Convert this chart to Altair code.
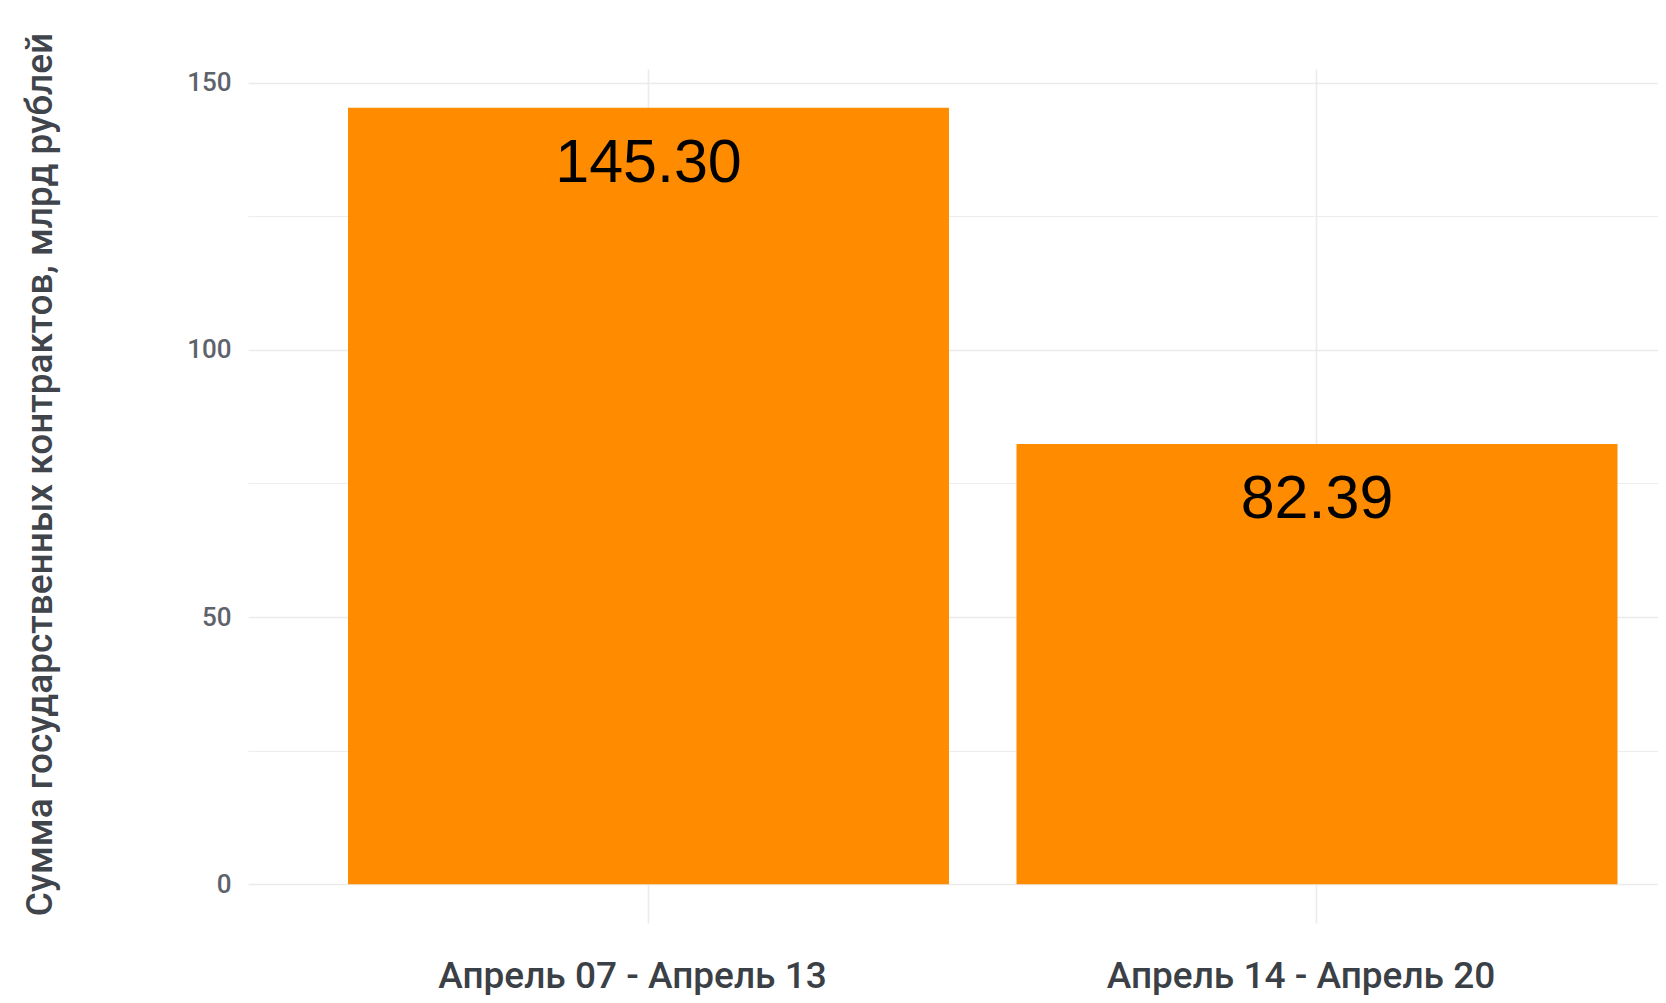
import altair as alt
import pandas as pd

categories = ["Апрель 07 - Апрель 13", "Апрель 14 - Апрель 20"]
values = [145.30, 82.39]
labels = ["145.30", "82.39"]
y_ticks = [0, 25, 50, 75, 100, 125, 150]

df = pd.DataFrame({"period": categories, "value": values, "label": labels})

W = 1410
H = 854

x_enc = alt.X(
    "period:N",
    sort=categories,
    title=None,
    scale=alt.Scale(paddingInner=0.101, paddingOuter=0.1051, align=0.7117),
    axis=alt.Axis(
        labelAngle=0,
        labelFont="Roboto",
        labelFontSize=37,
        labelFontWeight=500,
        labelColor="#3b3f46",
        labelPadding=35,
        labelBaseline="top",
        labelLimit=0,
        labelOffset=-16,
        ticks=False,
        domain=False,
        grid=True,
        gridColor="#EBEBEB",
        gridWidth=1.6,
        bandPosition=0.5,
    ),
)

y_enc = alt.Y(
    "value:Q",
    title="Сумма государственных контрактов, млрд рублей",
    scale=alt.Scale(domain=[-7.265, 152.565], nice=False, zero=False),
    axis=alt.Axis(
        values=y_ticks,
        labelExpr="datum.value % 50 === 0 ? datum.label : ''",
        labelFont="Roboto",
        labelFontSize=26,
        labelFontWeight=500,
        labelColor="#5e626b",
        labelPadding=17,
        ticks=False,
        domain=False,
        grid=True,
        gridColor="#EBEBEB",
        gridWidth={"condition": {"test": "datum.value % 50 === 0", "value": 1.6}, "value": 0.9},
        titleFont="Roboto",
        titleFontSize=37,
        titleFontWeight=500,
        titleColor="#40444b",
        titleAngle=270,
        titleAlign="center",
        titleBaseline="middle",
        titleX=-208,
        titleY=405,
    ),
)

base = alt.Chart(df)

bars = base.mark_bar(color="#FF8C00").encode(
    x=x_enc,
    y=y_enc,
    y2=alt.datum(0),
)

text = base.mark_text(
    font="Liberation Sans",
    fontSize=61,
    color="#000000",
    baseline="alphabetic",
    align="center",
    dy=74,
).encode(
    x=alt.X("period:N", sort=categories),
    y=alt.Y("value:Q"),
    text="label:N",
)

chart = (
    alt.layer(bars, text)
    .properties(
        width=W,
        height=H,
        autosize=alt.AutoSizeParams(type="none"),
        padding={"left": 240, "top": 61, "right": 0, "bottom": 72},
        background="#FFFFFF",
    )
    .configure_view(stroke=None)
)

chart.save("out.html", embed_options={"renderer": "svg", "actions": False})
